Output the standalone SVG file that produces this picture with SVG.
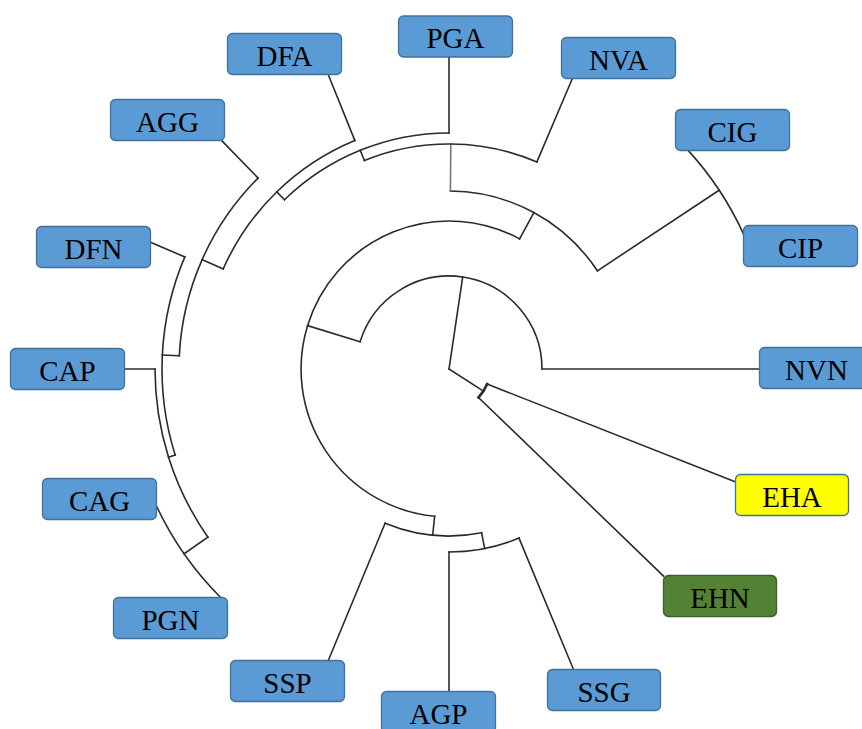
<svg xmlns="http://www.w3.org/2000/svg" width="862" height="729" viewBox="0 0 862 729">
<style>
.e{fill:none;stroke:#2b2b2b;stroke-width:1.6;stroke-linecap:square}
.b{fill:#5B9BD5;stroke:#41719C;stroke-width:1.3}
.t{font-family:"Liberation Serif","Times New Roman",serif;font-size:29px;fill:#000;text-anchor:middle}
</style>
<rect width="862" height="729" fill="#fff"/>
<g id="connectors">
<!-- root -->
<path class="e" d="M449,369 L462.7,277"/>
<path class="e" d="M449,369 L483.5,391.2"/>
<!-- EH clade -->
<path class="e" style="stroke-width:2.6" d="M487.1,384 A41,41 0 0 1 478.5,397.5"/>
<path class="e" d="M487.1,384 L735,481.7"/>
<path class="e" d="M478.5,397.5 L663.5,576"/>
<!-- N1 -->
<path class="e" d="M360.1,341.7 A93,93 0 0 1 542,369"/>
<path class="e" d="M542,369 L760,369"/>
<path class="e" d="M360.1,341.7 L307.5,325.6"/>
<!-- N2 -->
<path class="e" d="M434.6,516.3 A148,148 0 1 1 519.6,238.9"/>
<!-- N3 -->
<path class="e" d="M434.6,516.3 L432.7,535.2"/>
<path class="e" d="M481.6,532.8 A167,167 0 0 1 385.1,523.3"/>
<path class="e" d="M385.1,523.3 L328.5,660"/>
<!-- N4 -->
<path class="e" d="M481.6,532.8 L484.7,548.5"/>
<path class="e" d="M519,538.1 A183,183 0 0 1 449,552"/>
<path class="e" d="M449,552 L449,691"/>
<path class="e" d="M519,538.1 L573.3,669"/>
<!-- N5 -->
<path class="e" d="M519.6,238.9 L533.9,212.6"/>
<path class="e" d="M450.4,191 A178,178 0 0 1 597.4,270.8"/>
<!-- N6 CIG/CIP -->
<path class="e" d="M597.4,270.8 L719.2,190.2"/>
<path class="e" d="M687.9,150.1 A324,324 0 0 1 743.8,234.6"/>
<!-- N7 -->
<path class="e" style="stroke:#777" d="M450.4,191 L450.8,144"/>
<path class="e" d="M364.4,160.5 A225,225 0 0 1 536.9,161.9"/>
<path class="e" d="M536.9,161.9 L572.9,77.2"/>
<!-- N8 -->
<path class="e" d="M364.4,160.5 L360.2,150.3"/>
<path class="e" d="M284.5,199.8 A236,236 0 0 1 449,133"/>
<path class="e" d="M449,133 L449,57"/>
<!-- N9 -->
<path class="e" d="M284.5,199.8 L276.8,191.9"/>
<path class="e" d="M223.2,268.9 A247,247 0 0 1 354.9,140.6"/>
<path class="e" d="M354.9,140.6 L328,74"/>
<!-- N10 -->
<path class="e" d="M223.2,268.9 L202.1,259.6"/>
<path class="e" d="M179.3,355.8 A270,270 0 0 1 258.1,178.1"/>
<path class="e" d="M258.1,178.1 L222,141"/>
<!-- N11 -->
<path class="e" d="M179.3,355.8 L162.3,355"/>
<path class="e" d="M175.2,455.1 A287,287 0 0 1 184.8,256.9"/>
<path class="e" d="M184.8,256.9 L150,242.1"/>
<!-- N12 -->
<path class="e" d="M175.2,455.1 L168.5,457.2"/>
<path class="e" d="M207.9,537.2 A294,294 0 0 1 155,369"/>
<path class="e" d="M155,369 L124,369"/>
<!-- N13 -->
<path class="e" d="M207.9,537.2 L184.1,553.8"/>
<path class="e" d="M220.2,597 A323,323 0 0 1 156,505"/>
</g>
<g id="DFA"><rect class="b" x="227.5" y="33.5" width="114" height="41" rx="5"/><text class="t" x="284.5" y="65.5">DFA</text></g>
<g id="PGA"><rect class="b" x="398.5" y="16" width="114" height="41" rx="5"/><text class="t" x="455.5" y="48">PGA</text></g>
<g id="NVA"><rect class="b" x="561.5" y="37.5" width="114" height="41" rx="5"/><text class="t" x="618.5" y="69.5">NVA</text></g>
<g id="AGG"><rect class="b" x="110.5" y="99.5" width="114" height="41" rx="5"/><text class="t" x="167.5" y="131.5">AGG</text></g>
<g id="CIG"><rect class="b" x="675.5" y="109.5" width="114" height="41" rx="5"/><text class="t" x="732.5" y="141.5">CIG</text></g>
<g id="DFN"><rect class="b" x="36.5" y="226.5" width="114" height="41" rx="5"/><text class="t" x="93.5" y="258.5">DFN</text></g>
<g id="CIP"><rect class="b" x="743.5" y="225.5" width="114" height="41" rx="5"/><text class="t" x="800.5" y="257.5">CIP</text></g>
<g id="CAP"><rect class="b" x="10.5" y="348.5" width="114" height="41" rx="5"/><text class="t" x="67.5" y="380.5">CAP</text></g>
<g id="NVN"><rect class="b" x="759.5" y="347.5" width="114" height="41" rx="5"/><text class="t" x="816.5" y="379.5">NVN</text></g>
<g id="CAG"><rect class="b" x="42.5" y="478.5" width="114" height="41" rx="5"/><text class="t" x="99.5" y="510.5">CAG</text></g>
<g id="EHA"><rect class="b" style="fill:#FFFF00" x="735.5" y="474.5" width="113" height="41" rx="5"/><text class="t" x="792" y="506.5">EHA</text></g>
<g id="EHN"><rect class="b" style="fill:#548235;stroke:#3A5F24" x="663.5" y="575.5" width="113" height="41" rx="5"/><text class="t" x="720" y="607.5">EHN</text></g>
<g id="PGN"><rect class="b" x="113.5" y="597.5" width="114" height="41" rx="5"/><text class="t" x="170.5" y="629.5">PGN</text></g>
<g id="SSP"><rect class="b" x="230.5" y="660.5" width="114" height="41" rx="5"/><text class="t" x="287.5" y="692.5">SSP</text></g>
<g id="AGP"><rect class="b" x="381.5" y="691.5" width="114" height="41" rx="5"/><text class="t" x="438.5" y="723.5">AGP</text></g>
<g id="SSG"><rect class="b" x="547.5" y="669.5" width="113" height="41" rx="5"/><text class="t" x="604" y="701.5">SSG</text></g>
</svg>
